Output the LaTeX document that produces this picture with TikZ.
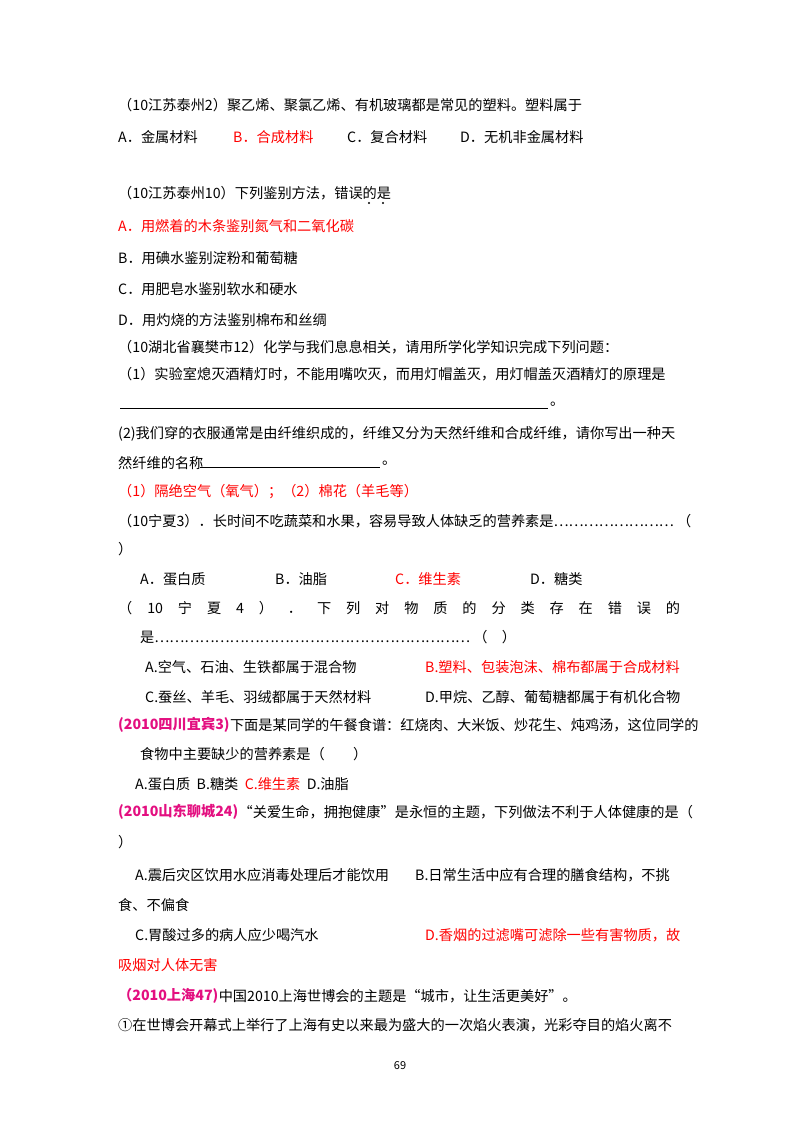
\documentclass[tikz,border=0pt]{standalone}
\usepackage{fontspec}
\setmainfont{Noto Sans CJK SC}
\begin{document}
\begin{tikzpicture}[x=1pt,y=-1pt,
  t/.style={anchor=west,inner sep=0pt,font=\fontsize{14.2}{15}\selectfont},
  r/.style={t,text=red},
  m/.style={t,text=magenta!80!purple,font=\fontsize{14.2}{15}\selectfont\bfseries}]
\useasboundingbox (0,0) rectangle (800,1132);
\node[t] (l1) at (118,105) {（10江苏泰州2）聚乙烯、聚氯乙烯、有机玻璃都是常见的塑料。塑料属于};
\node[t] (a1) at (118,137) {A．金属材料};
\node[r] (b1) at (233,137) {B．合成材料};
\node[t] (c1) at (347,137) {C．复合材料};
\node[t] (d1) at (460,137) {D．无机非金属材料};
\node[t] (l2) at (118,193) {（10江苏泰州10）下列鉴别方法，错误的是};
\fill (369,203) circle (1.2) (383,203) circle (1.2);
\node[r] (l3) at (118,226) {A．用燃着的木条鉴别氮气和二氧化碳};
\node[t] (l4) at (118,258) {B．用碘水鉴别淀粉和葡萄糖};
\node[t] (l5) at (118,289) {C．用肥皂水鉴别软水和硬水};
\node[t] (l6) at (118,320) {D．用灼烧的方法鉴别棉布和丝绸};
\node[t] (l7) at (118,347) {（10湖北省襄樊市12）化学与我们息息相关，请用所学化学知识完成下列问题：};
\node[t] (l8) at (118,374) {（1）实验室熄灭酒精灯时，不能用嘴吹灭，而用灯帽盖灭，用灯帽盖灭酒精灯的原理是};
\draw[line width=0.5pt] (120,408) -- (548,408);
\node[t] (l9) at (550,404) {。};
\node[t] (l10) at (118,434) {(2)我们穿的衣服通常是由纤维织成的，纤维又分为天然纤维和合成纤维，请你写出一种天};
\node[t] (l11) at (118,463) {然纤维的名称};
\draw[line width=0.5pt] (200,467) -- (380,467);
\node[t] (l11b) at (382,463) {。};
\node[r] (l12) at (118,492) {（1）隔绝空气（氧气）；（2）棉花（羊毛等）};
\node[t] (l13) at (118,521) {（10宁夏3）．长时间不吃蔬菜和水果，容易导致人体缺乏的营养素是……………………\ （};
\node[t] (l14) at (118,549) {）};
\node[t] (a2) at (140,579) {A．蛋白质};
\node[t] (b2) at (275,579) {B．油脂};
\node[r] (c2) at (395,579) {C．维生素};
\node[t] (d2) at (530,579) {D．糖类};
\node[t] (l15) at (118,608) {\makebox[562pt][s]{（\hfill 10\hfill 宁\hfill 夏\hfill 4\hfill ）\hfill ．\hfill 下\hfill 列\hfill 对\hfill 物\hfill 质\hfill 的\hfill 分\hfill 类\hfill 存\hfill 在\hfill 错\hfill 误\hfill 的}};
\node[t] (l16) at (140,637) {是………………………………………………………\ （\quad ）};
\node[t] (a3) at (145,667) {A.空气、石油、生铁都属于混合物};
\node[r] (b3) at (425,667) {B.塑料、包装泡沫、棉布都属于合成材料};
\node[t] (c3) at (145,697) {C.蚕丝、羊毛、羽绒都属于天然材料};
\node[t] (d3) at (425,697) {D.甲烷、乙醇、葡萄糖都属于有机化合物};
\node[m] (h1) at (118,725) {(2010四川宜宾3)};
\node[t] (h1b) at (h1.east) [anchor=west] {下面是某同学的午餐食谱：红烧肉、大米饭、炒花生、炖鸡汤，这位同学的};
\node[t] (l17) at (140,754) {食物中主要缺少的营养素是（\qquad ）};
\node[t] (l18) at (135,784) {A.蛋白质\ \ B.糖类\ \ \textcolor{red}{C.维生素}\ \ D.油脂};
\node[m] (h2) at (118,812) {(2010山东聊城24)};
\node[t] (h2b) at (h2.east) [anchor=west] {“关爱生命，拥抱健康”是永恒的主题，下列做法不利于人体健康的是（};
\node[t] (l19) at (118,842) {）};
\node[t] (a4) at (135,875) {A.震后灾区饮用水应消毒处理后才能饮用};
\node[t] (b4) at (415,875) {B.日常生活中应有合理的膳食结构，不挑};
\node[t] (l20) at (118,905) {食、不偏食};
\node[t] (c4) at (135,935) {C.胃酸过多的病人应少喝汽水};
\node[r] (d4) at (425,935) {D.香烟的过滤嘴可滤除一些有害物质，故};
\node[r] (l21) at (118,965) {吸烟对人体无害};
\node[m] (h3) at (118,996) {（2010上海47)};
\node[t] (h3b) at (h3.east) [anchor=west] {中国2010上海世博会的主题是“城市，让生活更美好”。};
\node[t] (l22) at (118,1025) {①在世博会开幕式上举行了上海有史以来最为盛大的一次焰火表演，光彩夺目的焰火离不};
\node[inner sep=0pt,font=\fontsize{11}{12}\selectfont] (pg) at (400,1066) {69};
\end{tikzpicture}
\end{document}
